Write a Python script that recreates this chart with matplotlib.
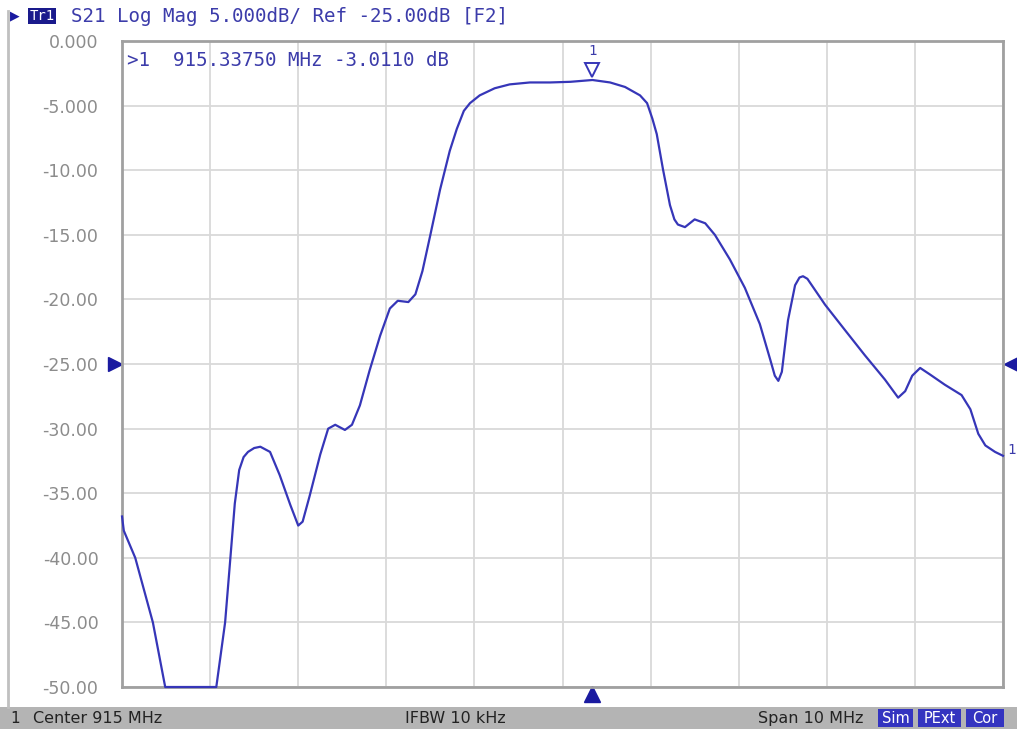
import matplotlib

matplotlib.use("Agg")
import matplotlib.pyplot as plt
from matplotlib.patches import Rectangle
from matplotlib.transforms import offset_copy

# S21 trace (MHz, dB)
freq_mhz = [
    910.00, 910.02, 910.15, 910.35, 910.49, 911.07, 911.17, 911.23, 911.28, 911.33,
    911.38, 911.43, 911.50, 911.57, 911.68, 911.79, 911.91, 912.00, 912.05, 912.13,
    912.25, 912.34, 912.42, 912.53, 912.61, 912.70, 912.81, 912.93, 913.04, 913.13,
    913.25, 913.33, 913.41, 913.50, 913.61, 913.72, 913.80, 913.88, 913.95, 914.06,
    914.23, 914.40, 914.63, 914.86, 915.09, 915.34, 915.54, 915.71, 915.88, 915.96,
    916.02, 916.07, 916.14, 916.22, 916.27, 916.31, 916.39, 916.50, 916.62, 916.73,
    916.90, 917.07, 917.24, 917.36, 917.41, 917.45, 917.49, 917.56, 917.64, 917.69,
    917.73, 917.78, 917.83, 917.98, 918.21, 918.43, 918.66, 918.81, 918.89, 918.97,
    919.06, 919.17, 919.34, 919.53, 919.63, 919.72, 919.80, 919.91, 920.00,
]
s21_db = [
    -36.8, -37.9, -40.0, -45.0, -50.0, -50.0, -45.0, -40.0, -35.8, -33.2,
    -32.2, -31.8, -31.5, -31.4, -31.8, -33.6, -35.9, -37.5, -37.2, -35.2,
    -32.0, -30.0, -29.7, -30.1, -29.7, -28.2, -25.5, -22.8, -20.7, -20.1,
    -20.2, -19.6, -17.8, -15.0, -11.5, -8.5, -6.8, -5.4, -4.8, -4.2,
    -3.65, -3.35, -3.2, -3.2, -3.15, -3.01, -3.2, -3.55, -4.2, -4.8,
    -6.0, -7.2, -9.9, -12.7, -13.8, -14.2, -14.4, -13.8, -14.1, -15.0,
    -16.9, -19.1, -21.9, -24.7, -25.9, -26.3, -25.6, -21.6, -18.9, -18.3,
    -18.2, -18.4, -18.9, -20.4, -22.4, -24.3, -26.2, -27.6, -27.1, -25.9,
    -25.3, -25.8, -26.6, -27.4, -28.5, -30.4, -31.3, -31.8, -32.1,
]

center_mhz = 915.0
span_mhz = 10.0
ref_db = -25.0
scale_db = 5.0
marker_freq = 915.33750
marker_db = -3.0110

y_ticks = [0, -5, -10, -15, -20, -25, -30, -35, -40, -45, -50]
y_labels = ["0.000", "-5.000", "-10.00", "-15.00", "-20.00", "-25.00",
            "-30.00", "-35.00", "-40.00", "-45.00", "-50.00"]

BLUE = "#3636b8"
TXT = "#3c3caa"
DARK = "#1a1aa0"
MONO = "DejaVu Sans Mono"

fig = plt.figure(figsize=(10.17, 7.29), dpi=100)
ax = fig.add_axes([0.12, 0.0576, 0.8662, 0.886])

f0 = center_mhz - span_mhz / 2
f1 = center_mhz + span_mhz / 2
ax.set_xlim(f0, f1)
ax.set_ylim(ref_db - 5 * scale_db, ref_db + 5 * scale_db)
ax.set_xticks([f0 + i * span_mhz / 10 for i in range(11)])
ax.set_xticklabels([])
ax.set_yticks(y_ticks)
ax.set_yticklabels(y_labels, fontsize=12.5, color="#8c8c8c")
ax.tick_params(length=0, pad=17)
ax.grid(True, color="#d9d9d9", linewidth=1.3)
for sp in ax.spines.values():
    sp.set_color("#a0a0a0")
    sp.set_linewidth(2)

ax.plot(freq_mhz, s21_db, color=BLUE, linewidth=1.6, clip_on=False, zorder=3)

# marker 1 readout
ax.text(0.006, 0.985, ">1  915.33750 MHz -3.0110 dB", transform=ax.transAxes,
        ha="left", va="top", fontsize=13.8, family=MONO, color=TXT)
mk = offset_copy(ax.transData, fig=fig, x=0, y=10, units="dots")
ax.plot([marker_freq], [marker_db], marker="v", markersize=10, markerfacecolor="white",
        markeredgecolor=BLUE, markeredgewidth=1.4, transform=mk, zorder=4)
ax.annotate("1", (marker_freq, marker_db), xytext=(0, 21), textcoords="offset points",
            ha="center", va="center", fontsize=10, family=MONO, color=TXT)
ax.annotate("1", (freq_mhz[-1], s21_db[-1]), xytext=(6, 4), textcoords="offset points",
            ha="center", va="center", fontsize=10, family=MONO, color=TXT,
            annotation_clip=False)

# reference level arrows and stimulus marker arrow
ax.plot([f0], [ref_db], marker=">", markersize=10, color=DARK, clip_on=False,
        transform=offset_copy(ax.transData, fig=fig, x=-7, y=0, units="dots"))
ax.plot([f1], [ref_db], marker="<", markersize=10, color=DARK, clip_on=False,
        transform=offset_copy(ax.transData, fig=fig, x=8, y=0, units="dots"))
ax.plot([marker_freq], [ref_db - 5 * scale_db], marker="^", markersize=11, color=DARK,
        clip_on=False, transform=offset_copy(ax.transData, fig=fig, x=0, y=-7, units="dots"))

# screen chrome: header line, left border, status bar
fig.add_artist(plt.Line2D([0.008, 0.008], [0.03, 0.985], color="#c0c0c0", linewidth=2))
fig.text(0.010, 0.978, "\u25b6", fontsize=9, color=DARK, va="center", ha="left")
fig.text(0.029, 0.978, "Tr1", fontsize=10, color="white", family=MONO, va="center", ha="left",
         bbox=dict(boxstyle="square,pad=0.1", facecolor="#1a1a8c", edgecolor="none"))
fig.text(0.070, 0.978, "S21 Log Mag 5.000dB/ Ref -25.00dB [F2]", fontsize=13.8,
         family=MONO, color=TXT, va="center", ha="left")

fig.add_artist(Rectangle((0, 0), 1, 0.030, transform=fig.transFigure,
                         facecolor="#b4b4b4", edgecolor="none"))
fig.text(0.010, 0.015, "1", fontsize=11, color="#222222", va="center")
fig.text(0.032, 0.015, "Center 915 MHz", fontsize=11.5, color="#222222", va="center")
fig.text(0.398, 0.015, "IFBW 10 kHz", fontsize=11.5, color="#222222", va="center")
fig.text(0.745, 0.015, "Span 10 MHz", fontsize=11.5, color="#222222", va="center")
for label, x0, w in [("Sim", 0.863, 0.035), ("PExt", 0.903, 0.042), ("Cor", 0.950, 0.037)]:
    fig.add_artist(Rectangle((x0, 0.003), w, 0.025, transform=fig.transFigure,
                             facecolor="#3434c0", edgecolor="none"))
    fig.text(x0 + w / 2, 0.015, label, fontsize=10.5, color="white", ha="center", va="center")

fig.savefig("out.png", dpi=100)
plt.close(fig)
